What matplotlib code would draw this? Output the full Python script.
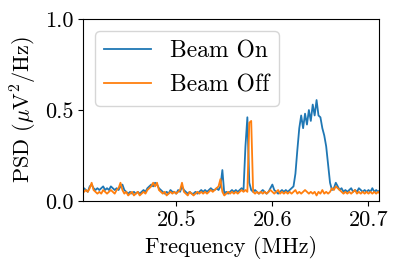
import numpy as np
import matplotlib
matplotlib.use("Agg")
import matplotlib.pyplot as plt

plt.rcParams['font.family'] = ['cmr10', 'DejaVu Serif']
plt.rcParams['mathtext.fontset'] = 'cm'
plt.rcParams['axes.unicode_minus'] = False
plt.rcParams['axes.formatter.use_mathtext'] = True

# frequency grid (MHz), 0.002 MHz spacing
freq = 20.400 + 0.002 * np.arange(157)

beam_on = [
    0.06, 0.05, 0.07, 0.06, 0.05, 0.08, 0.09, 0.07, 0.06, 0.07,
    0.06, 0.07, 0.08, 0.06, 0.07, 0.06, 0.08, 0.07, 0.06, 0.07,
    0.06, 0.08, 0.09, 0.06, 0.05, 0.04, 0.05, 0.04, 0.05, 0.04,
    0.05, 0.04, 0.05, 0.06, 0.05, 0.07, 0.08, 0.09, 0.08, 0.10,
    0.09, 0.07, 0.06, 0.05, 0.04, 0.05, 0.04, 0.06, 0.05, 0.05,
    0.04, 0.06, 0.05, 0.08, 0.06, 0.05, 0.04, 0.05, 0.04, 0.04,
    0.05, 0.04, 0.05, 0.06, 0.05, 0.06, 0.05, 0.06, 0.07, 0.06,
    0.06, 0.07, 0.06, 0.08, 0.17, 0.04, 0.05, 0.04, 0.05, 0.06,
    0.05, 0.06, 0.05, 0.06, 0.07, 0.06, 0.30, 0.46, 0.10, 0.06,
    0.05, 0.06, 0.05, 0.04, 0.05, 0.06, 0.05, 0.04, 0.05, 0.07,
    0.09, 0.06, 0.05, 0.04, 0.05, 0.06, 0.05, 0.06, 0.05, 0.06,
    0.07, 0.08, 0.15, 0.28, 0.40, 0.47, 0.40, 0.48, 0.42, 0.50,
    0.44, 0.53, 0.47, 0.555, 0.47, 0.46, 0.40, 0.36, 0.30, 0.20,
    0.10, 0.06, 0.07, 0.10, 0.08, 0.06, 0.07, 0.05, 0.06, 0.05,
    0.06, 0.07, 0.05, 0.06, 0.05, 0.07, 0.06, 0.05, 0.06, 0.05,
    0.06, 0.05, 0.07, 0.05, 0.06, 0.05, 0.06,
]

beam_off = [
    0.05, 0.04, 0.05, 0.06, 0.05, 0.07, 0.10, 0.06, 0.05, 0.04,
    0.05, 0.04, 0.06, 0.05, 0.04, 0.05, 0.06, 0.05, 0.04, 0.06,
    0.07, 0.10, 0.06, 0.04, 0.05, 0.03, 0.04, 0.05, 0.03, 0.04,
    0.05, 0.03, 0.04, 0.05, 0.04, 0.06, 0.07, 0.08, 0.10, 0.08,
    0.10, 0.06, 0.05, 0.04, 0.05, 0.03, 0.04, 0.05, 0.04, 0.05,
    0.04, 0.05, 0.06, 0.10, 0.05, 0.04, 0.03, 0.05, 0.04, 0.03,
    0.04, 0.05, 0.04, 0.05, 0.04, 0.05, 0.04, 0.05, 0.06, 0.05,
    0.06, 0.07, 0.08, 0.12, 0.05, 0.03, 0.04, 0.05, 0.04, 0.05,
    0.04, 0.05, 0.04, 0.05, 0.06, 0.05, 0.06, 0.05, 0.43, 0.44,
    0.05, 0.04, 0.05, 0.04, 0.05, 0.04, 0.05, 0.04, 0.05, 0.06,
    0.05, 0.04, 0.05, 0.06, 0.04, 0.05, 0.04, 0.05, 0.04, 0.05,
    0.04, 0.05, 0.06, 0.04, 0.05, 0.04, 0.05, 0.06, 0.05, 0.04,
    0.05, 0.04, 0.05, 0.03, 0.05, 0.04, 0.06, 0.04, 0.05, 0.04,
    0.05, 0.07, 0.06, 0.08, 0.07, 0.06, 0.05, 0.04, 0.05, 0.04,
    0.05, 0.04, 0.05, 0.06, 0.04, 0.05, 0.04, 0.05, 0.04, 0.05,
    0.04, 0.05, 0.04, 0.05, 0.04, 0.05, 0.04,
]

labels = ["Beam On", "Beam Off"]
xticks = [20.5, 20.6, 20.7]
yticks = [0.0, 0.5, 1.0]


def main():
    fig = plt.figure(figsize=(3.99, 2.73), dpi=100)
    ax = fig.add_axes([0.208, 0.264, 0.742, 0.666])
    ax.plot(freq, beam_on, color='C0', lw=1.3, label=labels[0])
    ax.plot(freq, beam_off, color='C1', lw=1.3, label=labels[1])
    ax.set_xlim(20.403, 20.711)
    ax.set_ylim(0, 1.0)
    ax.set_xticks(xticks)
    ax.set_yticks(yticks)
    ax.set_xticklabels(["20.5", "20.6", "20.7"])
    ax.set_yticklabels(["0.0", "0.5", "1.0"])
    ax.tick_params(labelsize=16)
    ax.set_xlabel("Frequency (MHz)", fontsize=16)
    ax.set_ylabel(r"PSD ($\mu$V$^2$/Hz)", fontsize=16)
    ax.legend(loc='upper left', fontsize=17)
    fig.savefig("out.png", dpi=100)


if __name__ == "__main__":
    main()
